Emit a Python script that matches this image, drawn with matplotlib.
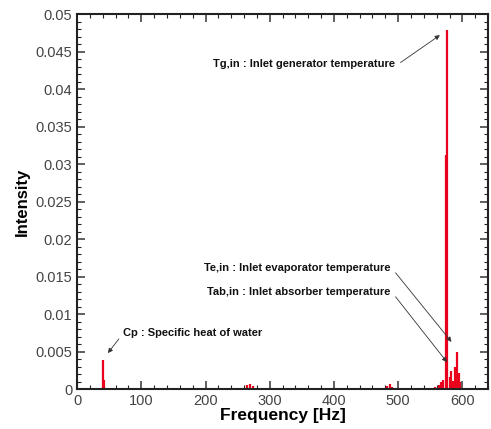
import matplotlib
matplotlib.use("Agg")
import matplotlib.pyplot as plt
from matplotlib.ticker import MultipleLocator, FuncFormatter

plt.rcParams['font.family'] = ['Liberation Sans', 'DejaVu Sans']

# Spectral components (frequency in Hz, intensity)
freq_hz = [40, 42, 265, 270, 274, 482, 487, 490, 558, 563, 567, 570, 574, 576,
           580, 583, 586, 589, 591, 594, 597]
intensity = [0.0039, 0.0012, 0.0005, 0.0007, 0.0004, 0.0004, 0.0007, 0.0003,
             0.0003, 0.0006, 0.0009, 0.0012, 0.0312, 0.0479,
             0.0016, 0.0024, 0.0011, 0.0030, 0.0050, 0.0022, 0.0010]

# Annotations: label, text position, arrow target, arrow start on the text box
notes = [
    ("Tg,in : Inlet generator temperature", (211, 0.0434), (565, 0.0472), (1.02, 0.45)),
    ("Te,in : Inlet evaporator temperature", (197, 0.0162), (583, 0.0063), (1.02, 0.2)),
    ("Tab,in : Inlet absorber temperature", (202, 0.0130), (576, 0.0036), (1.02, 0.2)),
    ("Cp : Specific heat of water", (72, 0.0075), (48, 0.0048), (-0.01, 0.3)),
]

fig = plt.figure(figsize=(4.91, 4.29), dpi=100)
ax = fig.add_axes([0.157, 0.093, 0.837, 0.874])

ax.vlines(freq_hz, 0, intensity, colors='#e8001c', linewidth=1.6)

ax.set_xlim(0, 640)
ax.set_ylim(0, 0.05)
ax.xaxis.set_major_locator(MultipleLocator(100))
ax.xaxis.set_minor_locator(MultipleLocator(20))
ax.yaxis.set_major_locator(MultipleLocator(0.005))
ax.yaxis.set_minor_locator(MultipleLocator(0.001))
ax.yaxis.set_major_formatter(FuncFormatter(lambda v, p: f"{v:g}" if v > 1e-9 else "0"))
ax.tick_params(which='both', direction='in', top=True, right=True, color='#222222')
ax.tick_params(which='major', length=6, width=1.2, labelsize=10.5, colors='#444444')
ax.tick_params(which='minor', length=3, width=0.8)
for s in ax.spines.values():
    s.set_linewidth(1.5)
    s.set_color('#222222')

ax.set_xlabel("Frequency [Hz]", fontsize=12.5, fontweight='bold', labelpad=0)
ax.set_ylabel("Intensity", fontsize=12, fontweight='bold', labelpad=4)

for label, txt_xy, tip_xy, rp in notes:
    ax.annotate(label, xy=tip_xy, xytext=txt_xy, fontsize=8, fontweight='bold',
                va='center', ha='left', color='#111111',
                arrowprops=dict(arrowstyle='-|>', color='#333333', lw=0.6,
                                mutation_scale=7, shrinkA=2, shrinkB=0,
                                relpos=rp))

fig.savefig("out.png", dpi=100)
